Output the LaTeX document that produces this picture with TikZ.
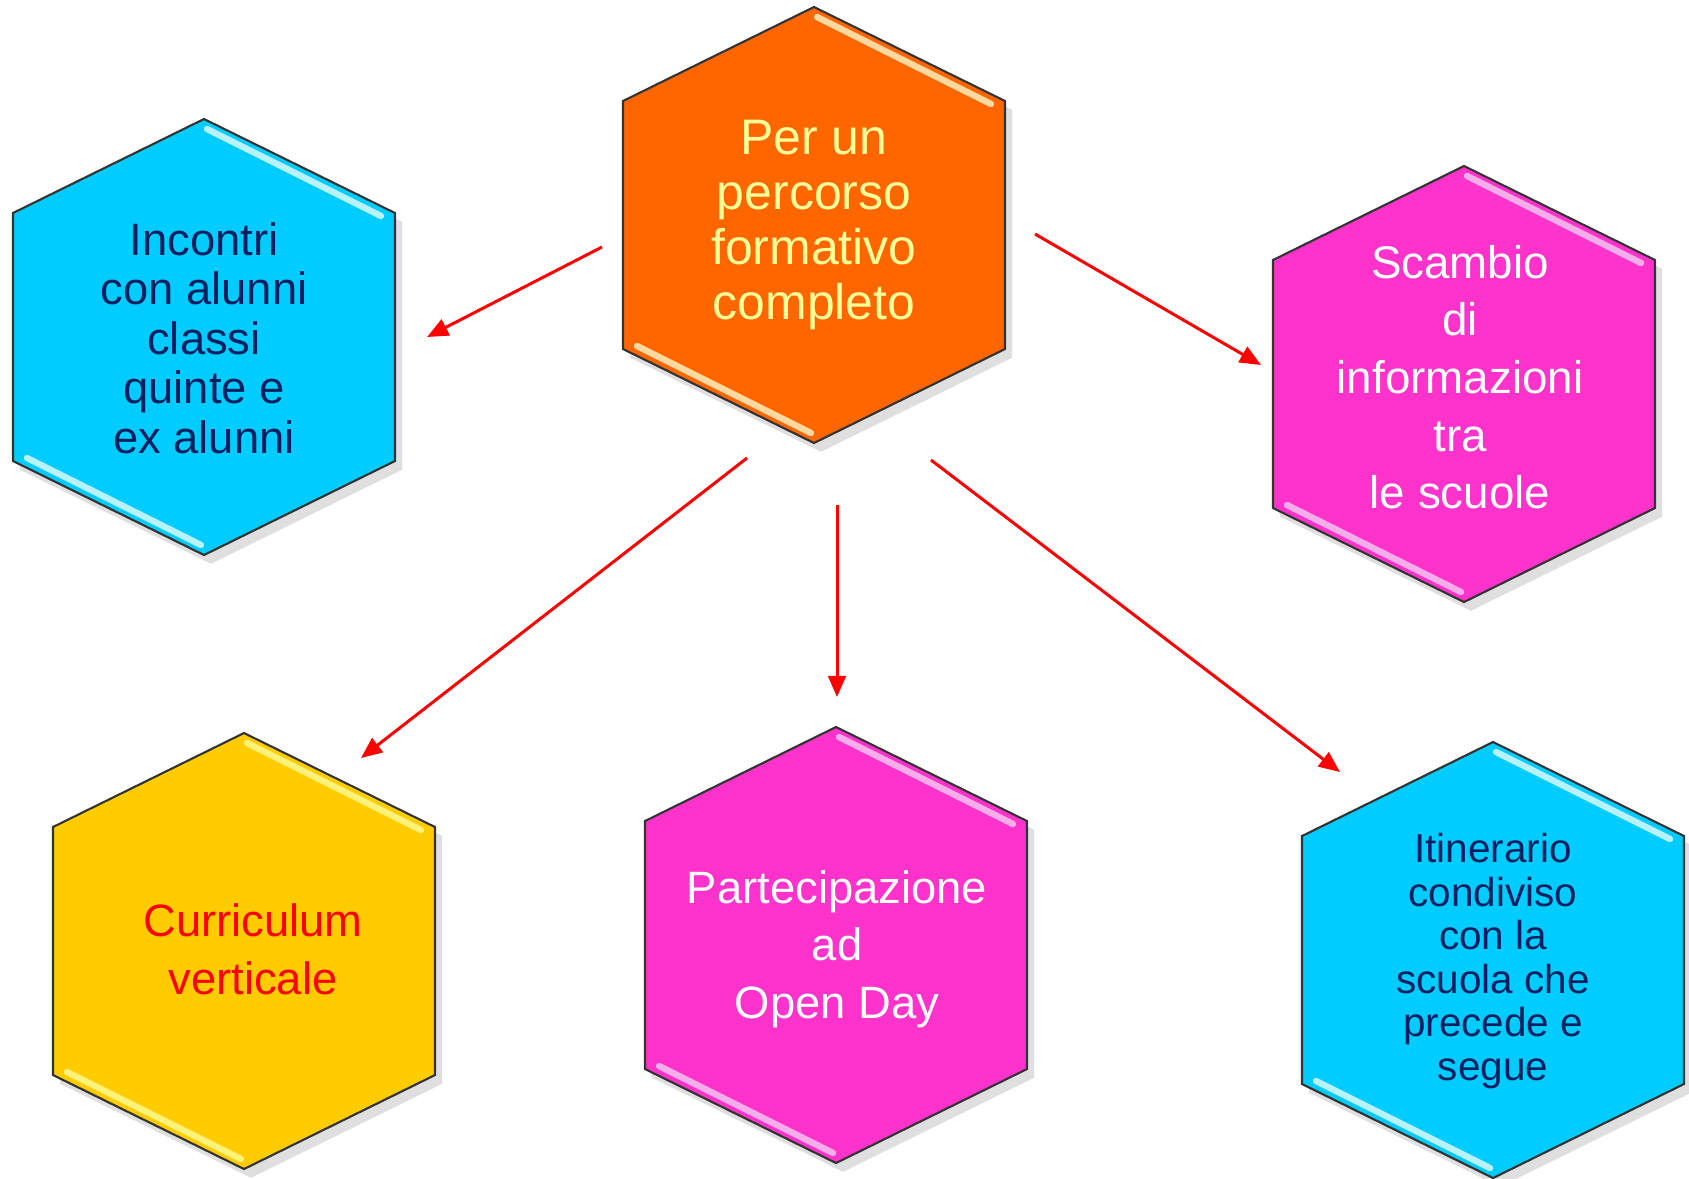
\documentclass[tikz,border=0pt]{standalone}
\usepackage{fontspec}
\setmainfont{Liberation Sans}
\usepackage{tikz}
\usetikzlibrary{arrows.meta,shadows,positioning,calc}

\definecolor{arancio}{HTML}{FF6600}
\definecolor{arancioL}{HTML}{FFD9A0}
\definecolor{giallino}{HTML}{FFFF99}
\definecolor{azzurro}{HTML}{00CCFF}
\definecolor{azzurroL}{HTML}{B8F2FF}
\definecolor{blunotte}{HTML}{002060}
\definecolor{fucsia}{HTML}{FF33CC}
\definecolor{fucsiaL}{HTML}{F5AEEA}
\definecolor{oro}{HTML}{FFCC00}
\definecolor{oroL}{HTML}{FFF27A}

\tikzset{
  hexbox/.style={rectangle, minimum width=3.82cm, minimum height=4.36cm, inner sep=0pt},
  hexa/.style={draw=black!80, line width=0.6pt,
    drop shadow={opacity=0.25, shadow xshift=2pt, shadow yshift=-2.5pt}},
  lbl/.style={align=center, inner sep=0pt},
  shine/.style={line width=1.8pt, line cap=round},
  link/.style={draw=red, line width=0.85pt, -{Triangle[length=6pt,width=5pt]}}
}

\begin{document}
\begin{tikzpicture}[x=0.01cm,y=-0.01cm]
    \useasboundingbox (0,0) rectangle (1689,1178);

    % esagoni
    \node[hexbox] at (814,225) (per) {};
    \node[hexbox] at (204,337) (inc) {};
    \node[hexbox] at (1464,384) (sca) {};
    \node[hexbox] at (244,951) (cur) {};
    \node[hexbox] at (836,945) (par) {};
    \node[hexbox] at (1493,960) (iti) {};

    \foreach \h/\f/\c in {per/arancio/arancioL, inc/azzurro/azzurroL, sca/fucsia/fucsiaL,
                          cur/oro/oroL, par/fucsia/fucsiaL, iti/azzurro/azzurroL} {
      \filldraw[hexa, fill=\f, shift={(\h.center)}]
        (0,-218) -- (191,-124) -- (191,124) -- (0,218) -- (-191,124) -- (-191,-124) -- cycle;
      % riflessi
      \draw[shine, draw=\c, shift={(\h.center)}] (3,-208) -- (177,-121);
      \draw[shine, draw=\c, shift={(\h.center)}] (-177,121) -- (-3,208);
    }

    % testi
    \node[lbl, text=giallino, font=\fontsize{14.2}{15.6}\selectfont] at (814,225) (perT) {Per un\\percorso\\formativo\\completo};
    \node[lbl, text=blunotte, font=\fontsize{12.9}{14.1}\selectfont] at (204,338) (incT) {Incontri\\con alunni\\classi\\quinte e\\ex alunni};
    \node[lbl, text=white, font=\fontsize{13}{16.4}\selectfont] at (1460,377) (scaT) {Scambio\\di\\informazioni\\tra\\ le scuole};
    \node[lbl, text=red, font=\fontsize{12.9}{16.4}\selectfont] at (253,949) (curT) {Curriculum\\verticale};
    \node[lbl, text=white, font=\fontsize{12.9}{16.4}\selectfont] at (837,949) (parT) {Partecipazione\\ad\\Open Day};
    \node[lbl, text=blunotte, font=\fontsize{11.5}{12.4}\selectfont] at (1493,961) (itiT) {Itinerario\\condiviso\\con la\\scuola che\\precede e\\segue};

    % estremi delle frecce
    \coordinate (p1) at (602,247);
    \coordinate (i1) at (427,337);
    \coordinate (p2) at (1035,234);
    \coordinate (s1) at (1261,365);
    \coordinate (p3) at (747,458);
    \coordinate (c1) at (361,758);
    \coordinate (p4) at (837,505);
    \coordinate (o1) at (837,697);
    \coordinate (p5) at (931,460);
    \coordinate (t1) at (1340,772);

    \draw[link] (p1)-- (i1);
    \draw[link] (p2)-- (s1);
    \draw[link] (p3)-- (c1);
    \draw[link] (p4)-- (o1);
    \draw[link] (p5)-- (t1);
\end{tikzpicture}
\end{document}
